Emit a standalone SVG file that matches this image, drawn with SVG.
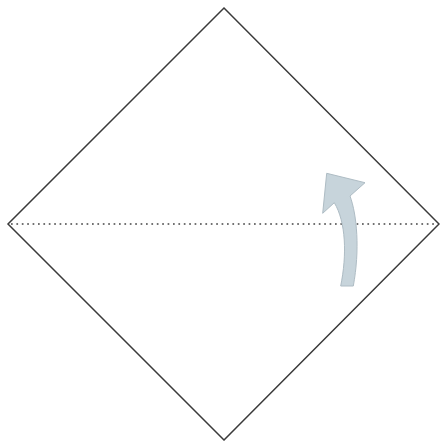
<svg xmlns="http://www.w3.org/2000/svg" width="440" height="441" viewBox="0 0 440 441">
<style>
.edge{fill:none;stroke:#3a3a3a;stroke-width:1.5}
.valley{fill:none;stroke:#444;stroke-width:1.7;stroke-dasharray:1.7 3.7}
.arrow{fill:#c7d4db;stroke:#aebcc4;stroke-width:1}
</style>
<rect width="440" height="441" fill="#fff"/>
<g id="paper">
<polygon class="edge" points="224,8 439,224 224,440 8,224"/>
</g>
<g id="connectors">
<line class="valley" x1="11" y1="224" x2="436" y2="224"/>
<path id="fold-arrow" class="arrow" d="M326.7,173.3 L365,182.7 L350,196 C357,215 360,250 353.3,286 L340.7,286 C347,255 346,222 334.3,202.7 L322.7,213.3 Z"/>
</g>
</svg>
